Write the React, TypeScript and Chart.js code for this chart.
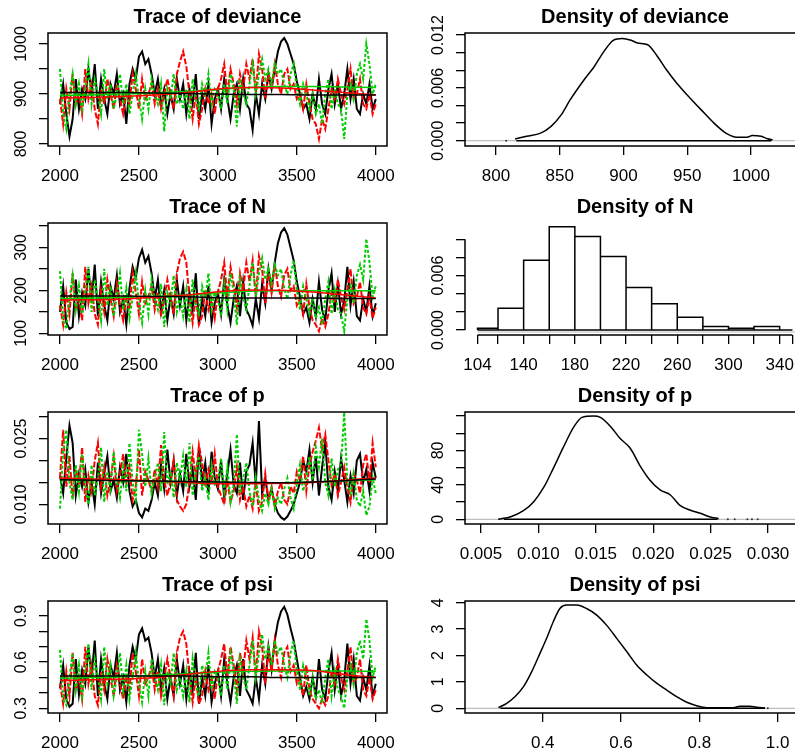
import React, { useEffect, useRef } from "react";
import { Chart, registerables } from "chart.js";

Chart.register(...registerables);

const FONT = '"Liberation Sans", Arial, Helvetica, sans-serif';
const BLACK = "#000000";
const RED = "#FF0000";
const GREEN = "#00CD00";
const GREY = "#BEBEBE";

// MCMC iterations kept (thinned every 20 iterations, 2000..4000)
const iterations: number[] = Array.from({ length: 101 }, (_, i) => 2000 + i * 20);
const smoothIterations = [2000, 2200, 2400, 2600, 2800, 3000, 3200, 3400, 3600, 3800, 4000];

// ---------- deviance chains ----------
const devianceChain1 = [
  880, 920, 860, 815, 850, 930, 870, 910, 890, 950,
  900, 960, 870, 930, 890, 860, 920, 900, 940, 880,
  900, 840, 920, 950, 930, 975, 985, 960, 970, 940,
  900, 930, 880, 910, 860, 900, 870, 930, 890, 920,
  860, 910, 880, 940, 850, 900, 870, 920, 840, 890,
  910, 870, 930, 890, 850, 900, 920, 870, 930, 880,
  870, 828, 900, 860, 920, 890, 940, 910, 950, 985,
  1005, 1012, 1000, 980, 960, 925, 900, 870, 880, 850,
  900, 870, 930, 880, 860, 910, 940, 880, 920, 870,
  900, 950, 890, 930, 870, 860, 900, 880, 920, 870,
  890,
];
const devianceChain2 = [
  890, 840, 910, 870, 940, 880, 900, 860, 950, 890,
  920, 870, 840, 910, 880, 930, 900, 870, 920, 890,
  860, 900, 880, 940, 910, 870, 930, 890, 900, 920,
  880, 910, 870, 900, 930, 900, 870, 940, 965, 985,
  955, 900, 850, 900, 840, 870, 910, 880, 900, 860,
  910, 930, 960, 900, 950, 920, 880, 940, 910, 960,
  930, 970, 900, 980, 950, 890, 940, 910, 960, 920,
  900, 940, 950, 910, 920, 890, 900, 870, 920, 880,
  850, 840, 810, 850, 830, 870, 910, 890, 930, 900,
  880, 910, 950, 890, 900, 930, 880, 870, 900, 860,
  880,
];
const devianceChain3 = [
  950, 860, 830, 900, 940, 880, 920, 870, 910, 960,
  880, 930, 900, 860, 950, 890, 920, 870, 900, 940,
  880, 920, 860, 900, 940, 890, 850, 910, 870, 930,
  900, 880, 920, 825, 910, 890, 940, 880, 900, 870,
  910, 850, 930, 890, 870, 920, 900, 940, 880, 910,
  900, 870, 920, 880, 940, 910, 835, 930, 900, 880,
  920, 960, 900, 940, 970, 930, 950, 920, 960, 940,
  950, 920, 900, 940, 960, 910, 880, 920, 900, 870,
  900, 860, 880, 840, 900, 930, 870, 910, 880, 870,
  810, 900, 920, 890, 940, 960, 930, 1000, 960, 900,
  920,
];
const devianceSmooth1 = [903, 903, 903, 902, 901, 900, 899, 899, 898, 898, 898];
const devianceSmooth2 = [892, 893, 895, 898, 903, 910, 913, 912, 908, 903, 898];
const devianceSmooth3 = [897, 898, 900, 902, 905, 909, 913, 915, 915, 914, 913];

// ---------- N chains ----------
const nChain1 = [
  150, 210, 125, 110, 115, 225, 140, 195, 165, 250,
  175, 260, 140, 220, 165, 130, 210, 180, 235, 150,
  180, 120, 205, 255, 230, 275, 295, 265, 280, 240,
  180, 225, 150, 200, 130, 185, 145, 225, 165, 210,
  130, 195, 155, 240, 120, 180, 140, 210, 125, 170,
  195, 145, 225, 165, 125, 180, 210, 140, 220, 155,
  140, 118, 180, 135, 215, 170, 250, 200, 265, 310,
  335, 345, 330, 300, 270, 220, 185, 145, 160, 125,
  180, 140, 220, 155, 130, 200, 240, 150, 215, 145,
  175, 255, 165, 220, 140, 130, 180, 150, 210, 140,
  170,
];
const nChain2 = [
  165, 120, 195, 145, 240, 155, 180, 130, 255, 170,
  210, 145, 120, 200, 150, 225, 180, 140, 215, 165,
  130, 180, 155, 240, 195, 145, 220, 170, 185, 210,
  155, 195, 140, 180, 225, 185, 145, 240, 275, 290,
  265, 180, 125, 185, 120, 140, 200, 155, 180, 135,
  195, 225, 265, 185, 255, 215, 160, 240, 200, 265,
  220, 270, 185, 280, 250, 170, 240, 195, 260, 210,
  185, 235, 250, 200, 210, 165, 180, 145, 215, 160,
  130, 120, 105, 135, 115, 145, 195, 170, 225, 185,
  155, 200, 250, 170, 185, 220, 160, 145, 185, 135,
  160,
];
const nChain3 = [
  245, 130, 110, 180, 235, 155, 210, 145, 195, 255,
  150, 225, 180, 130, 250, 165, 210, 140, 185, 240,
  155, 205, 135, 185, 240, 170, 125, 200, 145, 225,
  180, 155, 215, 115, 195, 170, 235, 150, 185, 140,
  200, 125, 225, 165, 145, 210, 180, 240, 155, 195,
  180, 140, 215, 155, 240, 195, 120, 225, 185, 155,
  210, 265, 185, 240, 275, 225, 250, 215, 260, 235,
  250, 205, 180, 235, 270, 200, 155, 210, 180, 145,
  185, 135, 160, 120, 180, 220, 145, 200, 155, 145,
  105, 180, 210, 170, 235, 260, 225, 320, 265, 185,
  210,
];
const nSmooth1 = [187, 187, 187, 186, 185, 183, 182, 182, 182, 181, 181];
const nSmooth2 = [177, 178, 180, 184, 189, 197, 201, 200, 196, 189, 182];
const nSmooth3 = [181, 182, 184, 186, 189, 194, 198, 199, 199, 199, 199];

// ---------- p chains ----------
const pChain1 = [
  0.0165, 0.0125, 0.0205, 0.028, 0.024, 0.012, 0.017, 0.014, 0.018, 0.0105,
  0.015, 0.01, 0.0195, 0.0125, 0.017, 0.021, 0.013, 0.0155, 0.0115, 0.0185,
  0.015, 0.0215, 0.013, 0.0095, 0.011, 0.008, 0.007, 0.009, 0.0085, 0.011,
  0.015, 0.012, 0.019, 0.0135, 0.0225, 0.015, 0.02, 0.012, 0.017, 0.013,
  0.0215, 0.014, 0.018, 0.011, 0.023, 0.015, 0.0195, 0.0125, 0.022, 0.016,
  0.0135, 0.02, 0.0115, 0.017, 0.0225, 0.0145, 0.0125, 0.0195, 0.011, 0.0175,
  0.019, 0.024, 0.0145, 0.029, 0.0125, 0.016, 0.011, 0.0135, 0.01, 0.008,
  0.007, 0.0065, 0.0072, 0.0085, 0.01, 0.0125, 0.015, 0.02, 0.0175, 0.0225,
  0.015, 0.021, 0.012, 0.0185, 0.024, 0.014, 0.011, 0.0175, 0.013, 0.0205,
  0.0155, 0.0105, 0.0165, 0.0125, 0.02, 0.0215, 0.015, 0.018, 0.013, 0.0195,
  0.016,
];
const pChain2 = [
  0.016, 0.027, 0.014, 0.021, 0.0115, 0.018, 0.015, 0.023, 0.0105, 0.0165,
  0.013, 0.02, 0.024, 0.014, 0.0185, 0.012, 0.0155, 0.021, 0.013, 0.017,
  0.0215, 0.015, 0.0185, 0.011, 0.014, 0.0225, 0.012, 0.0175, 0.0155, 0.013,
  0.018, 0.014, 0.0235, 0.0155, 0.012, 0.015, 0.02, 0.011, 0.0095, 0.0085,
  0.01, 0.015, 0.022, 0.016, 0.0235, 0.0195, 0.014, 0.018, 0.015, 0.0215,
  0.014, 0.012, 0.01, 0.0155, 0.0105, 0.013, 0.0185, 0.011, 0.014, 0.0095,
  0.012, 0.009, 0.015, 0.0085, 0.0105, 0.017, 0.011, 0.014, 0.0095, 0.013,
  0.015, 0.011, 0.01, 0.014, 0.0125, 0.0175, 0.0155, 0.021, 0.013, 0.019,
  0.022, 0.0245, 0.0275, 0.0225, 0.026, 0.02, 0.0145, 0.017, 0.012, 0.015,
  0.0185, 0.014, 0.0105, 0.017, 0.0155, 0.0125, 0.019, 0.0215, 0.015, 0.024,
  0.0185,
];
const pChain3 = [
  0.009, 0.022, 0.027, 0.015, 0.011, 0.019, 0.013, 0.0215, 0.0145, 0.01,
  0.019, 0.012, 0.016, 0.023, 0.0105, 0.0175, 0.0135, 0.022, 0.0155, 0.0115,
  0.0185, 0.013, 0.024, 0.015, 0.011, 0.027, 0.0215, 0.014, 0.0205, 0.0125,
  0.016, 0.0195, 0.013, 0.0265, 0.0145, 0.0175, 0.0115, 0.0195, 0.0155, 0.021,
  0.014, 0.024, 0.012, 0.0175, 0.021, 0.013, 0.016, 0.011, 0.019, 0.0145,
  0.015, 0.0205, 0.013, 0.0185, 0.0105, 0.0145, 0.026, 0.0125, 0.016, 0.0195,
  0.013, 0.0095, 0.016, 0.011, 0.0085, 0.0125, 0.01, 0.0135, 0.009, 0.0115,
  0.01, 0.0135, 0.016, 0.0115, 0.009, 0.0145, 0.019, 0.013, 0.016, 0.021,
  0.0155, 0.023, 0.0185, 0.025, 0.015, 0.012, 0.0205, 0.014, 0.018, 0.019,
  0.031, 0.015, 0.0125, 0.017, 0.011, 0.0095, 0.013, 0.0075, 0.0095, 0.016,
  0.0125,
];
const pSmooth1 = [0.0156, 0.0155, 0.0154, 0.0153, 0.0152, 0.0151, 0.015, 0.0149, 0.0151, 0.0154, 0.0158];
const pSmooth2 = [0.016, 0.0158, 0.0156, 0.0153, 0.015, 0.0147, 0.0147, 0.0148, 0.015, 0.0155, 0.016];
const pSmooth3 = [0.0156, 0.0155, 0.0154, 0.0152, 0.015, 0.0148, 0.0148, 0.0149, 0.0151, 0.0153, 0.0156];

// ---------- psi chains ----------
const psiChain1 = [
  0.43, 0.58, 0.36, 0.31, 0.33, 0.62, 0.39, 0.55, 0.46, 0.7,
  0.5, 0.74, 0.38, 0.62, 0.46, 0.36, 0.58, 0.5, 0.66, 0.42,
  0.5, 0.34, 0.58, 0.7, 0.62, 0.78, 0.82, 0.74, 0.76, 0.66,
  0.5, 0.62, 0.42, 0.56, 0.36, 0.5, 0.38, 0.62, 0.46, 0.58,
  0.36, 0.54, 0.42, 0.66, 0.33, 0.5, 0.38, 0.58, 0.34, 0.46,
  0.54, 0.38, 0.62, 0.46, 0.34, 0.5, 0.58, 0.38, 0.62, 0.42,
  0.38, 0.33, 0.5, 0.36, 0.58, 0.46, 0.7, 0.55, 0.74, 0.86,
  0.93, 0.96, 0.91, 0.82, 0.74, 0.62, 0.5, 0.38, 0.44, 0.36,
  0.5, 0.38, 0.62, 0.42, 0.36, 0.54, 0.66, 0.42, 0.58, 0.38,
  0.48, 0.72, 0.46, 0.62, 0.38, 0.35, 0.5, 0.42, 0.58, 0.38,
  0.46,
];
const psiChain2 = [
  0.46, 0.33, 0.54, 0.38, 0.66, 0.42, 0.5, 0.36, 0.7, 0.46,
  0.58, 0.38, 0.32, 0.54, 0.42, 0.62, 0.5, 0.38, 0.58, 0.46,
  0.36, 0.5, 0.42, 0.66, 0.54, 0.38, 0.62, 0.46, 0.5, 0.58,
  0.42, 0.54, 0.38, 0.5, 0.62, 0.5, 0.38, 0.66, 0.76, 0.8,
  0.72, 0.5, 0.34, 0.5, 0.33, 0.38, 0.54, 0.42, 0.5, 0.36,
  0.54, 0.62, 0.72, 0.5, 0.7, 0.58, 0.42, 0.66, 0.54, 0.74,
  0.62, 0.76, 0.5, 0.8, 0.7, 0.46, 0.66, 0.54, 0.74, 0.58,
  0.5, 0.66, 0.7, 0.54, 0.58, 0.46, 0.5, 0.38, 0.58, 0.42,
  0.36, 0.33, 0.3, 0.36, 0.32, 0.38, 0.54, 0.46, 0.62, 0.5,
  0.42, 0.54, 0.7, 0.46, 0.5, 0.62, 0.42, 0.38, 0.5, 0.36,
  0.42,
];
const psiChain3 = [
  0.68, 0.36, 0.32, 0.5, 0.66, 0.42, 0.58, 0.38, 0.54, 0.72,
  0.42, 0.62, 0.5, 0.36, 0.7, 0.46, 0.58, 0.38, 0.5, 0.66,
  0.42, 0.58, 0.36, 0.5, 0.66, 0.46, 0.34, 0.54, 0.38, 0.62,
  0.5, 0.42, 0.58, 0.32, 0.54, 0.46, 0.66, 0.42, 0.5, 0.38,
  0.54, 0.34, 0.62, 0.46, 0.38, 0.58, 0.5, 0.66, 0.42, 0.54,
  0.5, 0.38, 0.58, 0.42, 0.66, 0.54, 0.33, 0.62, 0.5, 0.42,
  0.58, 0.74, 0.5, 0.66, 0.78, 0.62, 0.7, 0.58, 0.74, 0.66,
  0.7, 0.58, 0.5, 0.66, 0.74, 0.54, 0.42, 0.58, 0.5, 0.38,
  0.5, 0.36, 0.42, 0.33, 0.5, 0.62, 0.38, 0.54, 0.42, 0.38,
  0.3, 0.5, 0.58, 0.46, 0.66, 0.74, 0.62, 0.88, 0.74, 0.5,
  0.58,
];
const psiSmooth1 = [0.51, 0.51, 0.51, 0.51, 0.51, 0.505, 0.505, 0.5, 0.5, 0.5, 0.5];
const psiSmooth2 = [0.48, 0.485, 0.49, 0.5, 0.52, 0.54, 0.55, 0.55, 0.545, 0.52, 0.5];
const psiSmooth3 = [0.495, 0.5, 0.505, 0.515, 0.525, 0.535, 0.54, 0.542, 0.542, 0.542, 0.54];

// ---------- densities ----------
const devianceDensX = [815, 824, 835, 843, 851, 858, 869, 877, 885, 892, 899, 906, 911, 919, 926, 934, 942, 950, 961, 971, 981, 989, 997, 1001, 1008, 1013, 1017];
const devianceDensY = [0.0002, 0.0005, 0.00086, 0.0016, 0.0029, 0.0046, 0.0069, 0.0084, 0.0102, 0.0114, 0.0116, 0.0114, 0.0111, 0.0109, 0.0097, 0.008, 0.0065, 0.0052, 0.0035, 0.002, 0.0008, 0.0004, 0.0004, 0.0006, 0.0005, 0.00023, 0.0001];
const devianceBaseRange = [816, 1016];
const devianceRug = [808];

const nBinEdges = [104, 120, 140, 160, 180, 200, 220, 240, 260, 280, 300, 320, 340];
const nBinDensity = [0.0002, 0.0024, 0.0077, 0.0114, 0.0103, 0.0081, 0.0047, 0.0029, 0.0014, 0.0004, 0.0002, 0.0004];
const nBaseRange = [104, 350];

const pDensX = [0.0065, 0.0076, 0.0087, 0.0096, 0.0105, 0.0113, 0.0122, 0.0131, 0.0138, 0.0148, 0.0154, 0.0163, 0.0171, 0.018, 0.0189, 0.0197, 0.0206, 0.0215, 0.0223, 0.0232, 0.0241, 0.0249, 0.0257];
const pDensY = [0, 3.1, 10.1, 20.5, 37.9, 59.2, 84.4, 107.6, 118.4, 120, 118.4, 107.6, 94.1, 82.5, 61.2, 45.7, 34.1, 28.3, 16.6, 10.8, 7, 3.1, 0.8];
const pBaseRange = [0.007, 0.0256];
const pRug = [0.0265, 0.0271, 0.0282, 0.0286, 0.0291];

const psiDensX = [0.287, 0.308, 0.329, 0.351, 0.372, 0.393, 0.41, 0.427, 0.444, 0.461, 0.487, 0.512, 0.538, 0.563, 0.589, 0.615, 0.64, 0.666, 0.691, 0.717, 0.742, 0.768, 0.793, 0.819, 0.853, 0.887, 0.904, 0.929, 0.946, 0.968];
const psiDensY = [0.025, 0.19, 0.44, 0.82, 1.39, 2.08, 2.65, 3.28, 3.78, 3.91, 3.91, 3.78, 3.53, 3.15, 2.65, 2.14, 1.64, 1.26, 0.95, 0.69, 0.44, 0.23, 0.1, 0.025, 0.025, 0.025, 0.076, 0.076, 0.038, 0.013];
const psiBaseRange = [0.292, 0.968];
const psiRug = [0.975];

// ---------- ticks ----------
const traceXTicks = [2000, 2500, 3000, 3500, 4000];
const traceXTickLabels = ["2000", "2500", "3000", "3500", "4000"];
const devTraceYTicks = [800, 850, 900, 950, 1000];
const devTraceYTickLabels = ["800", "", "900", "", "1000"];
const nTraceYTicks = [100, 150, 200, 250, 300, 350];
const nTraceYTickLabels = ["100", "", "200", "", "300", ""];
const pTraceYTicks = [0.01, 0.015, 0.02, 0.025, 0.03];
const pTraceYTickLabels = ["0.010", "", "", "0.025", ""];
const psiTraceYTicks = [0.3, 0.4, 0.5, 0.6, 0.7, 0.8, 0.9];
const psiTraceYTickLabels = ["0.3", "", "", "0.6", "", "", "0.9"];

const devDensXTicks = [800, 850, 900, 950, 1000];
const devDensXTickLabels = ["800", "850", "900", "950", "1000"];
const devDensYTicks = [0, 0.002, 0.004, 0.006, 0.008, 0.01, 0.012];
const devDensYTickLabels = ["0.000", "", "", "0.006", "", "", "0.012"];
const nHistXTicks = [104, 120, 140, 160, 180, 200, 220, 240, 260, 280, 300, 320, 340, 350];
const nHistXTickLabels = ["104", "", "140", "", "180", "", "220", "", "260", "", "300", "", "340", ""];
const nHistYTicks = [0, 0.002, 0.004, 0.006, 0.008, 0.01];
const nHistYTickLabels = ["0.000", "", "", "0.006", "", ""];
const pDensXTicks = [0.005, 0.01, 0.015, 0.02, 0.025, 0.03];
const pDensXTickLabels = ["0.005", "0.010", "0.015", "0.020", "0.025", "0.030"];
const pDensYTicks = [0, 20, 40, 60, 80, 100, 120];
const pDensYTickLabels = ["0", "", "40", "", "80", "", ""];
const psiDensXTicks = [0.4, 0.6, 0.8, 1.0];
const psiDensXTickLabels = ["0.4", "0.6", "0.8", "1.0"];
const psiDensYTicks = [0, 1, 2, 3, 4];
const psiDensYTickLabels = ["0", "1", "2", "3", "4"];

// ---------- layout ----------
const LEFT_COL = { cx: 0, cw: 400, L: 48, R: 387 };
const RIGHT_COL = { cx: 400, cw: 420, L: 465, R: 805 };
const ROWS = [
  { cy: 0, T: 33, B: 146 },
  { cy: 190, T: 223, B: 335 },
  { cy: 380, T: 412, B: 524 },
  { cy: 568, T: 601, B: 713 },
];
const CANVAS_H = 190;

type Spec = {
  key: string;
  col: typeof LEFT_COL;
  row: (typeof ROWS)[number];
  title: string;
  xRange: [number, number];
  yRange: [number, number];
  xTicks: number[];
  xLabels: string[];
  yTicks: number[];
  yLabels: string[];
  box: boolean;
  zeroLine?: { from?: number; offset?: number };
  axisLines?: boolean;
  datasets: any[];
};

const CHAIN_COLORS = [BLACK, RED, GREEN];
const CHAIN_DASH = [[], [6, 2], [3, 2]];

function traceDatasets(chains: number[][], smooths: number[][]) {
  const sets: any[] = chains.map((vals, c) => ({
    data: vals.map((v, i) => ({ x: iterations[i], y: v })),
    borderColor: CHAIN_COLORS[c],
    borderWidth: 2,
    borderDash: CHAIN_DASH[c],
    pointRadius: 0,
    tension: 0,
    order: 3 - c,
  }));
  smooths.forEach((vals, c) => {
    sets.push({
      data: vals.map((v, i) => ({ x: smoothIterations[i], y: v })),
      borderColor: CHAIN_COLORS[c],
      borderWidth: 1.5,
      pointRadius: 0,
      cubicInterpolationMode: "monotone",
      order: 0,
    });
  });
  return sets;
}

function densityDatasets(xs: number[], ys: number[], base: number[], rug: number[]) {
  return [
    {
      data: xs.map((x, i) => ({ x, y: ys[i] })),
      borderColor: BLACK,
      borderWidth: 1.5,
      pointRadius: 0,
      cubicInterpolationMode: "monotone",
      order: 0,
    },
    {
      data: base.map((x) => ({ x, y: 0 })),
      borderColor: BLACK,
      borderWidth: 1.5,
      pointRadius: 0,
      order: 1,
    },
    {
      data: rug.map((x) => ({ x, y: 0 })),
      showLine: false,
      pointRadius: 1,
      pointBorderWidth: 0,
      pointBackgroundColor: "#333333",
      order: 2,
    },
  ];
}

function histDatasets() {
  const outline = nBinDensity.flatMap((h, i) => [
    { x: nBinEdges[i], y: 0 },
    { x: nBinEdges[i], y: h },
    { x: nBinEdges[i + 1], y: h },
    { x: nBinEdges[i + 1], y: 0 },
  ]);
  return [
    { data: outline, borderColor: BLACK, borderWidth: 1.5, pointRadius: 0, tension: 0, order: 0 },
    { data: nBaseRange.map((x) => ({ x, y: 0 })), borderColor: BLACK, borderWidth: 1.5, pointRadius: 0, order: 1 },
  ];
}

const SPECS: Spec[] = [
  {
    key: "tdev", col: LEFT_COL, row: ROWS[0], title: "Trace of deviance",
    xRange: [1924, 4071], yRange: [796, 1022],
    xTicks: traceXTicks, xLabels: traceXTickLabels, yTicks: devTraceYTicks, yLabels: devTraceYTickLabels,
    box: true,
    datasets: traceDatasets([devianceChain1, devianceChain2, devianceChain3], [devianceSmooth1, devianceSmooth2, devianceSmooth3]),
  },
  {
    key: "ddev", col: RIGHT_COL, row: ROWS[0], title: "Density of deviance",
    xRange: [775.7, 1042.4], yRange: [-0.0006, 0.01223],
    xTicks: devDensXTicks, xLabels: devDensXTickLabels, yTicks: devDensYTicks, yLabels: devDensYTickLabels,
    box: true, zeroLine: {},
    datasets: densityDatasets(devianceDensX, devianceDensY, devianceBaseRange, devianceRug),
  },
  {
    key: "tn", col: LEFT_COL, row: ROWS[1], title: "Trace of N",
    xRange: [1924, 4071], yRange: [96, 357],
    xTicks: traceXTicks, xLabels: traceXTickLabels, yTicks: nTraceYTicks, yLabels: nTraceYTickLabels,
    box: true,
    datasets: traceDatasets([nChain1, nChain2, nChain3], [nSmooth1, nSmooth2, nSmooth3]),
  },
  {
    key: "dn", col: RIGHT_COL, row: ROWS[1], title: "Density of N",
    xRange: [94.2, 359.8], yRange: [-0.00055, 0.0118],
    xTicks: nHistXTicks, xLabels: nHistXTickLabels, yTicks: nHistYTicks, yLabels: nHistYTickLabels,
    box: false, axisLines: true, zeroLine: { from: 104, offset: 2 },
    datasets: histDatasets(),
  },
  {
    key: "tp", col: LEFT_COL, row: ROWS[2], title: "Trace of p",
    xRange: [1924, 4071], yRange: [0.0055, 0.03107],
    xTicks: traceXTicks, xLabels: traceXTickLabels, yTicks: pTraceYTicks, yLabels: pTraceYTickLabels,
    box: true,
    datasets: traceDatasets([pChain1, pChain2, pChain3], [pSmooth1, pSmooth2, pSmooth3]),
  },
  {
    key: "dp", col: RIGHT_COL, row: ROWS[2], title: "Density of p",
    xRange: [0.00361, 0.03322], yRange: [-5.4, 124.6],
    xTicks: pDensXTicks, xLabels: pDensXTickLabels, yTicks: pDensYTicks, yLabels: pDensYTickLabels,
    box: true, zeroLine: {},
    datasets: densityDatasets(pDensX, pDensY, pBaseRange, pRug),
  },
  {
    key: "tpsi", col: LEFT_COL, row: ROWS[3], title: "Trace of psi",
    xRange: [1924, 4071], yRange: [0.2694, 0.9975],
    xTicks: traceXTicks, xLabels: traceXTickLabels, yTicks: psiTraceYTicks, yLabels: psiTraceYTickLabels,
    box: true,
    datasets: traceDatasets([psiChain1, psiChain2, psiChain3], [psiSmooth1, psiSmooth2, psiSmooth3]),
  },
  {
    key: "dpsi", col: RIGHT_COL, row: ROWS[3], title: "Density of psi",
    xRange: [0.2015, 1.07], yRange: [-0.178, 4.064],
    xTicks: psiDensXTicks, xLabels: psiDensXTickLabels, yTicks: psiDensYTicks, yLabels: psiDensYTickLabels,
    box: true, zeroLine: {},
    datasets: densityDatasets(psiDensX, psiDensY, psiBaseRange, psiRug),
  },
];

function decorPlugin(spec: Spec) {
  return {
    id: "rdecor",
    beforeDatasetsDraw(chart: any) {
      if (!spec.zeroLine) return;
      const { ctx, chartArea: a } = chart;
      const xs = chart.scales.x;
      const ys = chart.scales.y;
      const py = ys.getPixelForValue(0) + (spec.zeroLine.offset || 0);
      const x0 = spec.zeroLine.from != null ? xs.getPixelForValue(spec.zeroLine.from) : a.left;
      ctx.save();
      ctx.strokeStyle = GREY;
      ctx.lineWidth = 1.2;
      ctx.beginPath();
      ctx.moveTo(x0, py);
      ctx.lineTo(a.right, py);
      ctx.stroke();
      ctx.restore();
    },
    afterDraw(chart: any) {
      const { ctx, chartArea: a } = chart;
      const xs = chart.scales.x;
      const ys = chart.scales.y;
      ctx.save();
      ctx.strokeStyle = BLACK;
      ctx.lineWidth = 1.5;
      if (spec.box) ctx.strokeRect(a.left, a.top, a.right - a.left, a.bottom - a.top);
      if (spec.axisLines) {
        ctx.beginPath();
        ctx.moveTo(a.left, ys.getPixelForValue(spec.yTicks[0]));
        ctx.lineTo(a.left, ys.getPixelForValue(spec.yTicks[spec.yTicks.length - 1]));
        ctx.moveTo(xs.getPixelForValue(spec.xTicks[0]), a.bottom);
        ctx.lineTo(xs.getPixelForValue(spec.xTicks[spec.xTicks.length - 1]), a.bottom);
        ctx.stroke();
      }
      ctx.fillStyle = BLACK;
      ctx.textAlign = "center";
      ctx.textBaseline = "alphabetic";
      ctx.font = `bold 20px ${FONT}`;
      ctx.fillText(spec.title, (a.left + a.right) / 2, a.top - 10);

      ctx.font = `17px ${FONT}`;
      ctx.textBaseline = "middle";
      spec.xTicks.forEach((v, i) => {
        const lab = spec.xLabels[i];
        if (lab) ctx.fillText(lab, xs.getPixelForValue(v), a.bottom + 30);
      });

      ctx.font = `16px ${FONT}`;
      ctx.textBaseline = "alphabetic";
      spec.yTicks.forEach((v, i) => {
        const lab = spec.yLabels[i];
        if (!lab) return;
        ctx.save();
        ctx.translate(a.left - 22, ys.getPixelForValue(v));
        ctx.rotate(-Math.PI / 2);
        ctx.fillText(lab, 0, 0);
        ctx.restore();
      });
      ctx.restore();
    },
  };
}

function buildConfig(spec: Spec): any {
  const { col, row } = spec;
  const tickGrid = {
    drawOnChartArea: false,
    drawTicks: true,
    tickLength: 9,
    color: BLACK,
    lineWidth: 1.3,
  };
  return {
    type: "line",
    data: { datasets: spec.datasets },
    options: {
      animation: false,
      responsive: false,
      devicePixelRatio: 1,
      events: [],
      layout: {
        padding: { top: row.T - row.cy, right: col.cx + col.cw - col.R, left: 0, bottom: 0 },
      },
      plugins: {
        legend: { display: false },
        tooltip: { enabled: false },
        title: { display: false },
      },
      scales: {
        x: {
          type: "linear",
          min: spec.xRange[0],
          max: spec.xRange[1],
          afterBuildTicks: (s: any) => {
            s.ticks = spec.xTicks.map((v) => ({ value: v }));
          },
          afterFit: (s: any) => {
            s.height = row.cy + CANVAS_H - row.B;
          },
          ticks: { display: false, autoSkip: false },
          grid: tickGrid,
          border: { display: false },
        },
        y: {
          type: "linear",
          min: spec.yRange[0],
          max: spec.yRange[1],
          afterBuildTicks: (s: any) => {
            s.ticks = spec.yTicks.map((v) => ({ value: v }));
          },
          afterFit: (s: any) => {
            s.width = col.L - col.cx;
          },
          ticks: { display: false, autoSkip: false },
          grid: tickGrid,
          border: { display: false },
        },
      },
    },
    plugins: [decorPlugin(spec)],
  };
}

function Panel({ spec }: { spec: Spec }) {
  const ref = useRef<HTMLCanvasElement>(null);
  useEffect(() => {
    if (!ref.current) return;
    const chart = new Chart(ref.current, buildConfig(spec));
    return () => chart.destroy();
  }, [spec]);
  return (
    <canvas
      ref={ref}
      width={spec.col.cw}
      height={CANVAS_H}
      style={{ position: "absolute", left: spec.col.cx, top: spec.row.cy, width: spec.col.cw, height: CANVAS_H }}
    />
  );
}

export default function App() {
  return (
    <div
      style={{
        position: "absolute",
        left: 0,
        top: 0,
        width: 795,
        height: 753,
        overflow: "hidden",
        background: "#ffffff",
      }}
    >
      {SPECS.map((s) => (
        <Panel key={s.key} spec={s} />
      ))}
    </div>
  );
}
